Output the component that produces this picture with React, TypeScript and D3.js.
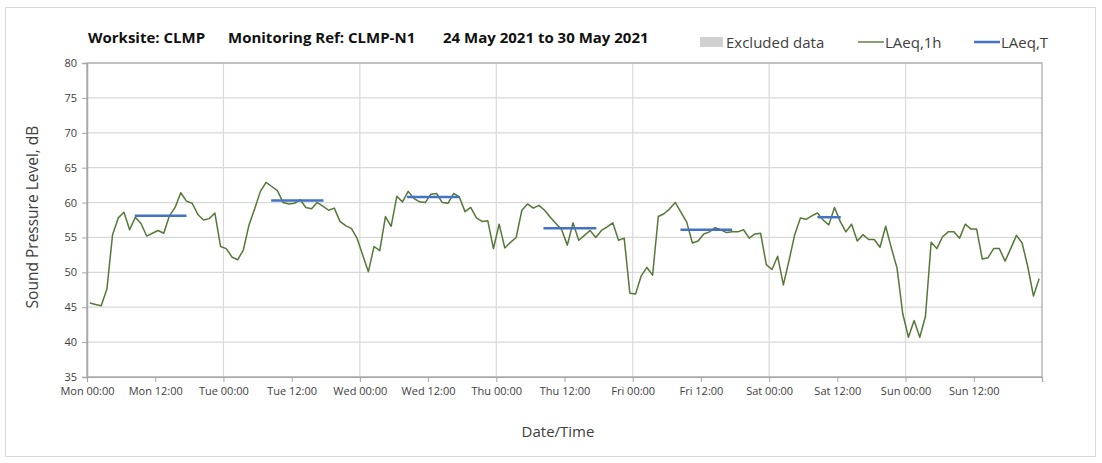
import React, { useEffect, useRef } from "react";
import * as d3 from "d3";

// hourly LAeq,1h values (dB), one array per day, hour 00..23
const mon = [45.6, 45.4, 45.2, 47.6, 55.4, 57.8, 58.6, 56.1, 57.9, 57.0, 55.2, 55.6, 56.0, 55.6, 58.1, 59.3, 61.4, 60.2, 59.9, 58.3, 57.5, 57.7, 58.5, 53.7];
const tue = [53.4, 52.2, 51.8, 53.2, 56.8, 59.1, 61.6, 62.9, 62.3, 61.7, 60.0, 59.8, 59.9, 60.4, 59.3, 59.1, 60.0, 59.5, 58.9, 59.2, 57.3, 56.7, 56.3, 54.9];
const wed = [52.5, 50.1, 53.7, 53.1, 58.0, 56.6, 60.9, 60.1, 61.6, 60.6, 60.1, 60.0, 61.2, 61.3, 60.0, 59.9, 61.3, 60.8, 58.7, 59.3, 57.8, 57.3, 57.4, 53.4];
const thu = [56.9, 53.5, 54.3, 55.0, 58.9, 59.8, 59.2, 59.6, 58.9, 57.9, 57.0, 56.1, 53.9, 57.1, 54.6, 55.3, 56.0, 55.0, 56.0, 56.5, 57.1, 54.6, 54.9, 47.0];
const fri = [46.9, 49.5, 50.7, 49.6, 58.0, 58.4, 59.1, 60.0, 58.6, 57.2, 54.2, 54.5, 55.5, 55.8, 56.4, 56.1, 55.7, 55.8, 55.8, 56.1, 54.9, 55.5, 55.6, 51.1];
const sat = [50.4, 52.3, 48.2, 51.7, 55.4, 57.8, 57.6, 58.1, 58.5, 57.5, 56.8, 59.3, 57.3, 55.8, 56.9, 54.5, 55.4, 54.7, 54.7, 53.6, 56.6, 53.5, 50.6, 44.1];
const sun = [40.7, 43.1, 40.7, 43.7, 54.3, 53.4, 55.1, 55.8, 55.8, 54.9, 56.9, 56.2, 56.2, 51.9, 52.1, 53.4, 53.4, 51.6, 53.4, 55.3, 54.2, 50.8, 46.6, 49.1];

// LAeq,T periods (hours from Mon 00:00) and levels
const periodStart = [8.4, 32.4, 56.3, 80.3, 104.4, 128.5];
const periodEnd = [17.5, 41.6, 65.5, 89.6, 113.5, 132.6];
const periodLevel = [58.1, 60.3, 60.8, 56.3, 56.1, 57.9];

const xTickLabels = [
  "Mon 00:00", "Mon 12:00", "Tue 00:00", "Tue 12:00", "Wed 00:00", "Wed 12:00", "Thu 00:00",
  "Thu 12:00", "Fri 00:00", "Fri 12:00", "Sat 00:00", "Sat 12:00", "Sun 00:00", "Sun 12:00",
];
const yTicks = [35, 40, 45, 50, 55, 60, 65, 70, 75, 80];

const FONT = "'Open Sans', Lato, sans-serif";
const GREEN = "#557838";
const BLUE = "#4472c4";

const App: React.FC = () => {
  const ref = useRef<SVGSVGElement>(null);

  useEffect(() => {
    const width = 1102;
    const height = 463;
    const margin = { top: 63, right: 60, bottom: 86, left: 87 };

    const hourly = [...mon, ...tue, ...wed, ...thu, ...fri, ...sat, ...sun].map((v, i) => ({
      h: i + 0.5,
      v,
    }));

    const x = d3.scaleLinear().domain([0, 168]).range([margin.left, width - margin.right]);
    const y = d3.scaleLinear().domain([35, 80]).range([height - margin.bottom, margin.top]);

    const svg = d3.select(ref.current);
    svg.selectAll("*").remove();
    svg.attr("width", width).attr("height", height);

    // outer chart border
    svg
      .append("rect")
      .attr("x", 5.5)
      .attr("y", 7.5)
      .attr("width", 1090)
      .attr("height", 449)
      .attr("fill", "#fff")
      .attr("stroke", "#d9d9d9");

    // gridlines
    const grid = svg.append("g");
    grid
      .selectAll("line.h")
      .data(yTicks)
      .enter()
      .append("line")
      .attr("x1", x(0))
      .attr("x2", x(168))
      .attr("y1", (d) => y(d))
      .attr("y2", (d) => y(d))
      .attr("stroke", "#d9d9d9")
      .attr("stroke-width", 1.2);
    grid
      .selectAll("line.v")
      .data(d3.range(24, 168, 24))
      .enter()
      .append("line")
      .attr("x1", (d) => x(d))
      .attr("x2", (d) => x(d))
      .attr("y1", y(35))
      .attr("y2", y(80))
      .attr("stroke", "#d9d9d9")
      .attr("stroke-width", 1.2);

    // plot frame
    svg
      .append("rect")
      .attr("x", x(0))
      .attr("y", y(80))
      .attr("width", x(168) - x(0))
      .attr("height", y(35) - y(80))
      .attr("fill", "none")
      .attr("stroke", "#a6a6a6")
      .attr("stroke-width", 1.2);

    // y axis
    const yAxis = svg
      .append("g")
      .attr("transform", `translate(${x(0)},0)`)
      .call(d3.axisLeft(y).tickValues(yTicks).tickSize(5).tickPadding(5));
    yAxis.select(".domain").attr("stroke", "#a6a6a6").attr("stroke-width", 1.5);
    yAxis.selectAll(".tick line").attr("stroke", "#a6a6a6");
    yAxis
      .selectAll("text")
      .style("font-family", FONT)
      .style("font-size", "11px")
      .attr("fill", "#404040");

    // x axis
    const xAxis = svg
      .append("g")
      .attr("transform", `translate(0,${y(35)})`)
      .call(
        d3
          .axisBottom(x)
          .tickValues(d3.range(0, 169, 12))
          .tickSize(5)
          .tickPadding(5)
          .tickFormat((d) => xTickLabels[(d as number) / 12] ?? "")
      );
    xAxis.select(".domain").attr("stroke", "#a6a6a6").attr("stroke-width", 1.2);
    xAxis.selectAll(".tick line").attr("stroke", "#a6a6a6");
    xAxis
      .selectAll("text")
      .style("font-family", FONT)
      .style("font-size", "11px")
      .attr("fill", "#404040");

    // LAeq,1h line
    const line = d3
      .line<{ h: number; v: number }>()
      .x((d) => x(d.h))
      .y((d) => y(d.v));
    svg
      .append("path")
      .datum(hourly)
      .attr("fill", "none")
      .attr("stroke", GREEN)
      .attr("stroke-width", 1.5)
      .attr("stroke-linejoin", "round")
      .attr("d", line);

    // LAeq,T segments
    svg
      .append("g")
      .selectAll("line")
      .data(periodLevel)
      .enter()
      .append("line")
      .attr("x1", (_, i) => x(periodStart[i]))
      .attr("x2", (_, i) => x(periodEnd[i]))
      .attr("y1", (d) => y(d))
      .attr("y2", (d) => y(d))
      .attr("stroke", BLUE)
      .attr("stroke-width", 2.5);

    // title
    const title = svg
      .append("g")
      .style("font-family", FONT)
      .style("font-size", "15px")
      .style("font-weight", "bold")
      .attr("fill", "#111");
    title.append("text").attr("x", 88).attr("y", 43).text("Worksite: CLMP");
    title.append("text").attr("x", 228).attr("y", 43).text("Monitoring Ref: CLMP-N1");
    title.append("text").attr("x", 443).attr("y", 43).text("24 May 2021 to 30 May 2021");

    // legend
    const legend = svg
      .append("g")
      .style("font-family", FONT)
      .style("font-size", "15px")
      .attr("fill", "#404040");
    legend.append("rect").attr("x", 700).attr("y", 37).attr("width", 23).attr("height", 10).attr("fill", "#d0d0d0");
    legend.append("text").attr("x", 726).attr("y", 48).text("Excluded data");
    legend.append("line").attr("x1", 858).attr("x2", 884).attr("y1", 42).attr("y2", 42).attr("stroke", GREEN).attr("stroke-width", 1.4);
    legend.append("text").attr("x", 885).attr("y", 48).text("LAeq,1h");
    legend.append("line").attr("x1", 974).attr("x2", 1000).attr("y1", 42).attr("y2", 42).attr("stroke", BLUE).attr("stroke-width", 2.5);
    legend.append("text").attr("x", 1001).attr("y", 48).text("LAeq,T");

    // axis titles
    svg
      .append("text")
      .attr("transform", `translate(38,${(y(35) + y(80)) / 2 - 3}) rotate(-90)`)
      .attr("text-anchor", "middle")
      .style("font-family", FONT)
      .style("font-size", "15.5px")
      .attr("fill", "#404040")
      .text("Sound Pressure Level, dB");
    svg
      .append("text")
      .attr("x", 558)
      .attr("y", 437)
      .attr("text-anchor", "middle")
      .style("font-family", FONT)
      .style("font-size", "15px")
      .attr("fill", "#404040")
      .text("Date/Time");
  }, []);

  return (
    <div style={{ position: "absolute", left: 0, top: 0 }}>
      <svg ref={ref}></svg>
    </div>
  );
};

export default App;
